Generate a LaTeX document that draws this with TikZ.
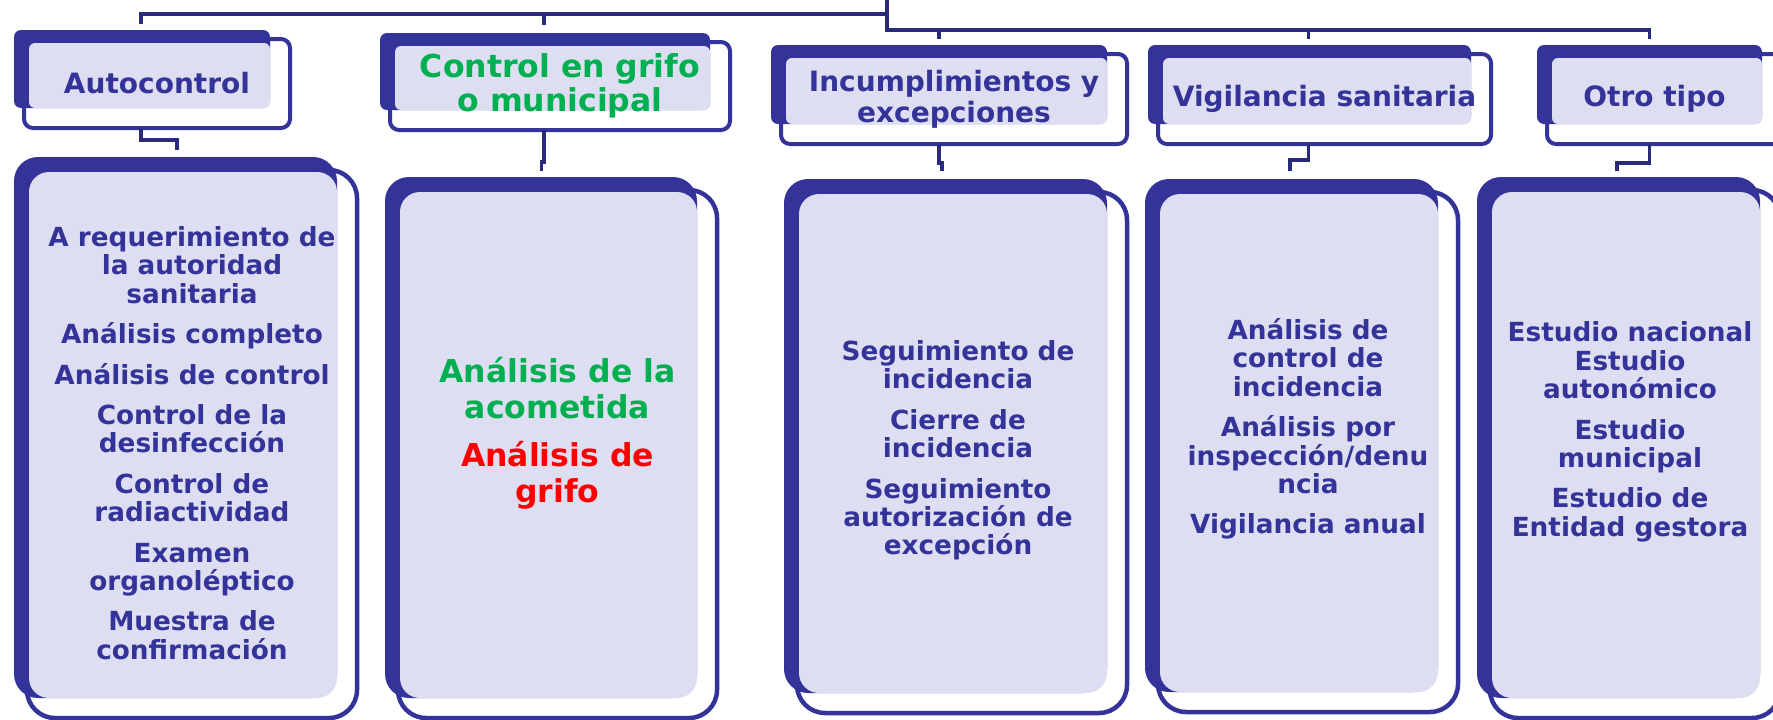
\documentclass[tikz,border=0pt]{standalone}
\usepackage{fontspec}
\setmainfont{DejaVu Sans}

\definecolor{navy}{RGB}{51,51,153}
\definecolor{linkblue}{RGB}{42,42,122}
\definecolor{dots}{RGB}{222,222,242}
\definecolor{grifogreen}{RGB}{0,176,80}
\definecolor{grifored}{RGB}{255,0,0}

\begin{document}
\begin{tikzpicture}[x=1pt, y=-1pt,
    hdr/.style={rectangle, draw=navy, line width=4pt, fill=white, rounded corners=9pt, inner sep=0pt, outer sep=0pt},
    lst/.style={rectangle, draw=navy, line width=4.5pt, fill=white, rounded corners=28pt, inner sep=0pt, outer sep=0pt},
    hdrshadow/.style={fill=navy, rounded corners=7pt},
    lstshadow/.style={fill=navy, rounded corners=24pt},
    hdrdots/.style={fill=dots, rounded corners=6pt},
    lstdots/.style={fill=dots, rounded corners=20pt},
    hdrtext/.style={text=navy, font=\fontsize{28}{31}\selectfont\bfseries, align=center},
    lsttext/.style={text=navy, font=\fontsize{26.3}{28.4}\selectfont\bfseries, align=center},
    link/.style={draw=linkblue, line width=3.5pt}]
    \useasboundingbox (0,0) rectangle (1773,720);
    \clip (0,0) rectangle (1773,720);

    % Header boxes
    \node (autoctl) [hdr, minimum width=266pt, minimum height=89pt] at (157,83.5) {};
    \node (grifo) [hdr, minimum width=340pt, minimum height=88pt] at (560,86) {};
    \node (incump) [hdr, minimum width=346pt, minimum height=90pt] at (954,99) {};
    \node (vigil) [hdr, minimum width=333pt, minimum height=90pt] at (1324.5,99) {};
    \node (otro) [hdr, minimum width=235pt, minimum height=90pt] at (1664.5,99) {};

    % List boxes
    \node (autolist) [lst, minimum width=330pt, minimum height=548pt] at (192,444) {};
    \node (grifolist) [lst, minimum width=319pt, minimum height=528pt] at (557.5,454) {};
    \node (incumplist) [lst, minimum width=330pt, minimum height=521pt] at (962,452.5) {};
    \node (vigillist) [lst, minimum width=300pt, minimum height=520pt] at (1308,452) {};
    \node (otrolist) [lst, minimum width=290pt, minimum height=528pt] at (1635,454) {};

    % Shadows
    \fill [hdrshadow] ([shift={(-10pt,9pt)}]autoctl.north west) rectangle ([shift={(-20pt,20pt)}]autoctl.south east);
    \fill [hdrshadow] ([shift={(-10pt,9pt)}]grifo.north west) rectangle ([shift={(-20pt,20pt)}]grifo.south east);
    \fill [hdrshadow] ([shift={(-10pt,9pt)}]incump.north west) rectangle ([shift={(-20pt,20pt)}]incump.south east);
    \fill [hdrshadow] ([shift={(-10pt,9pt)}]vigil.north west) rectangle ([shift={(-20pt,20pt)}]vigil.south east);
    \fill [hdrshadow] ([shift={(-10pt,9pt)}]otro.north west) rectangle ([shift={(-20pt,20pt)}]otro.south east);
    \fill [lstshadow] ([shift={(-13pt,13pt)}]autolist.north west) rectangle ([shift={(-20pt,20pt)}]autolist.south east);
    \fill [lstshadow] ([shift={(-13pt,13pt)}]grifolist.north west) rectangle ([shift={(-20pt,20pt)}]grifolist.south east);
    \fill [lstshadow] ([shift={(-13pt,13pt)}]incumplist.north west) rectangle ([shift={(-20pt,20pt)}]incumplist.south east);
    \fill [lstshadow] ([shift={(-13pt,13pt)}]vigillist.north west) rectangle ([shift={(-20pt,20pt)}]vigillist.south east);
    \fill [lstshadow] ([shift={(-13pt,13pt)}]otrolist.north west) rectangle ([shift={(-20pt,20pt)}]otrolist.south east);

    % Dotted panels
    \fill [hdrdots] ([shift={(5pt,-4pt)}]autoctl.north west) rectangle ([shift={(-20pt,20pt)}]autoctl.south east);
    \fill [hdrdots] ([shift={(5pt,-4pt)}]grifo.north west) rectangle ([shift={(-20pt,20pt)}]grifo.south east);
    \fill [hdrdots] ([shift={(5pt,-4pt)}]incump.north west) rectangle ([shift={(-20pt,20pt)}]incump.south east);
    \fill [hdrdots] ([shift={(5pt,-4pt)}]vigil.north west) rectangle ([shift={(-20pt,20pt)}]vigil.south east);
    \fill [hdrdots] ([shift={(5pt,-4pt)}]otro.north west) rectangle ([shift={(-20pt,20pt)}]otro.south east);
    \fill [lstdots] ([shift={(2pt,-2pt)}]autolist.north west) rectangle ([shift={(-20pt,20pt)}]autolist.south east);
    \fill [lstdots] ([shift={(2pt,-2pt)}]grifolist.north west) rectangle ([shift={(-20pt,20pt)}]grifolist.south east);
    \fill [lstdots] ([shift={(2pt,-2pt)}]incumplist.north west) rectangle ([shift={(-20pt,20pt)}]incumplist.south east);
    \fill [lstdots] ([shift={(2pt,-2pt)}]vigillist.north west) rectangle ([shift={(-20pt,20pt)}]vigillist.south east);
    \fill [lstdots] ([shift={(2pt,-2pt)}]otrolist.north west) rectangle ([shift={(-20pt,20pt)}]otrolist.south east);

    % Titles
    \node (autoctltxt) [hdrtext] at (autoctl.center) {Autocontrol};
    \node (grifotxt) [hdrtext, text=grifogreen, font=\fontsize{31.5}{34}\selectfont\bfseries] at (grifo.center) {Control en grifo\\o municipal};
    \node (incumptxt) [hdrtext] at (incump.center) {Incumplimientos y\\excepciones};
    \node (vigiltxt) [hdrtext] at (vigil.center) {Vigilancia sanitaria};
    \node (otrotxt) [hdrtext] at ([xshift=-10pt]otro.center) {Otro tipo};

    % Lists
    \node (autolisttxt) [lsttext] at ([yshift=1pt]autolist.center) {A requerimiento de\\la autoridad\\sanitaria\\[12pt]An\'alisis completo\\[12pt]An\'alisis de control\\[12pt]Control de la\\desinfecci\'on\\[12pt]Control de\\radiactividad\\[12pt]Examen\\organol\'eptico\\[12pt]Muestra de\\confirmaci\'on};
    \node (grifolisttxt) [lsttext, font=\fontsize{31.5}{36}\selectfont\bfseries] at ([yshift=21pt]grifolist.center) {\textcolor{grifogreen}{Análisis de la}\\\textcolor{grifogreen}{acometida}\\[12pt]\textcolor{grifored}{Análisis de}\\\textcolor{grifored}{grifo}};
    \node (incumplisttxt) [lsttext] at ([shift={(-4pt,2pt)}]incumplist.center) {Seguimiento de\\incidencia\\[12pt]Cierre de\\incidencia\\[12pt]Seguimiento\\autorización de\\excepción};
    \node (vigillisttxt) [lsttext] at ([yshift=23pt]vigillist.center) {Análisis de\\control de\\incidencia\\[12pt]Análisis por\\inspección/denu\\ncia\\[12pt]Vigilancia anual};
    \node (otrolisttxt) [lsttext] at ([shift={(-5pt,22pt)}]otrolist.center) {Estudio nacional\\Estudio\\autonómico\\[12pt]Estudio\\municipal\\[12pt]Estudio de\\Entidad gestora};

    % Connectors
    \coordinate (root) at (887,-3);
    \draw [link] (root) -- ++(0,17) -| ([xshift=-16pt,yshift=15pt]autoctl.north);
    \draw [link] (root) -- ++(0,17) -| ([xshift=-16pt,yshift=17pt]grifo.north);
    \draw [link] (root) -- ++(0,33) -| ([xshift=-15pt,yshift=15pt]incump.north);
    \draw [link] (root) -- ++(0,33) -| ([xshift=-16pt,yshift=15pt]vigil.north);
    \draw [link] (root) -- ++(0,33) -| ([xshift=-15pt,yshift=15pt]otro.north);
    \draw [link] ([xshift=-16pt]autoctl.south) -- ++(0,12) -| ([xshift=-15pt,yshift=20pt]autolist.north);
    \draw [link] ([xshift=-16pt]grifo.south) -- ++(0,32) -| ([xshift=-16pt,yshift=19pt]grifolist.north);
    \draw [link] ([xshift=-15pt]incump.south) -- ++(0,19) -| ([xshift=-20pt,yshift=21pt]incumplist.north);
    \draw [link] ([xshift=-16pt]vigil.south) -- ++(0,16) -| ([xshift=-18pt,yshift=21pt]vigillist.north);
    \draw [link] ([xshift=-15pt]otro.south) -- ++(0,19) -| ([xshift=-18pt,yshift=19pt]otrolist.north);
\end{tikzpicture}
\end{document}
